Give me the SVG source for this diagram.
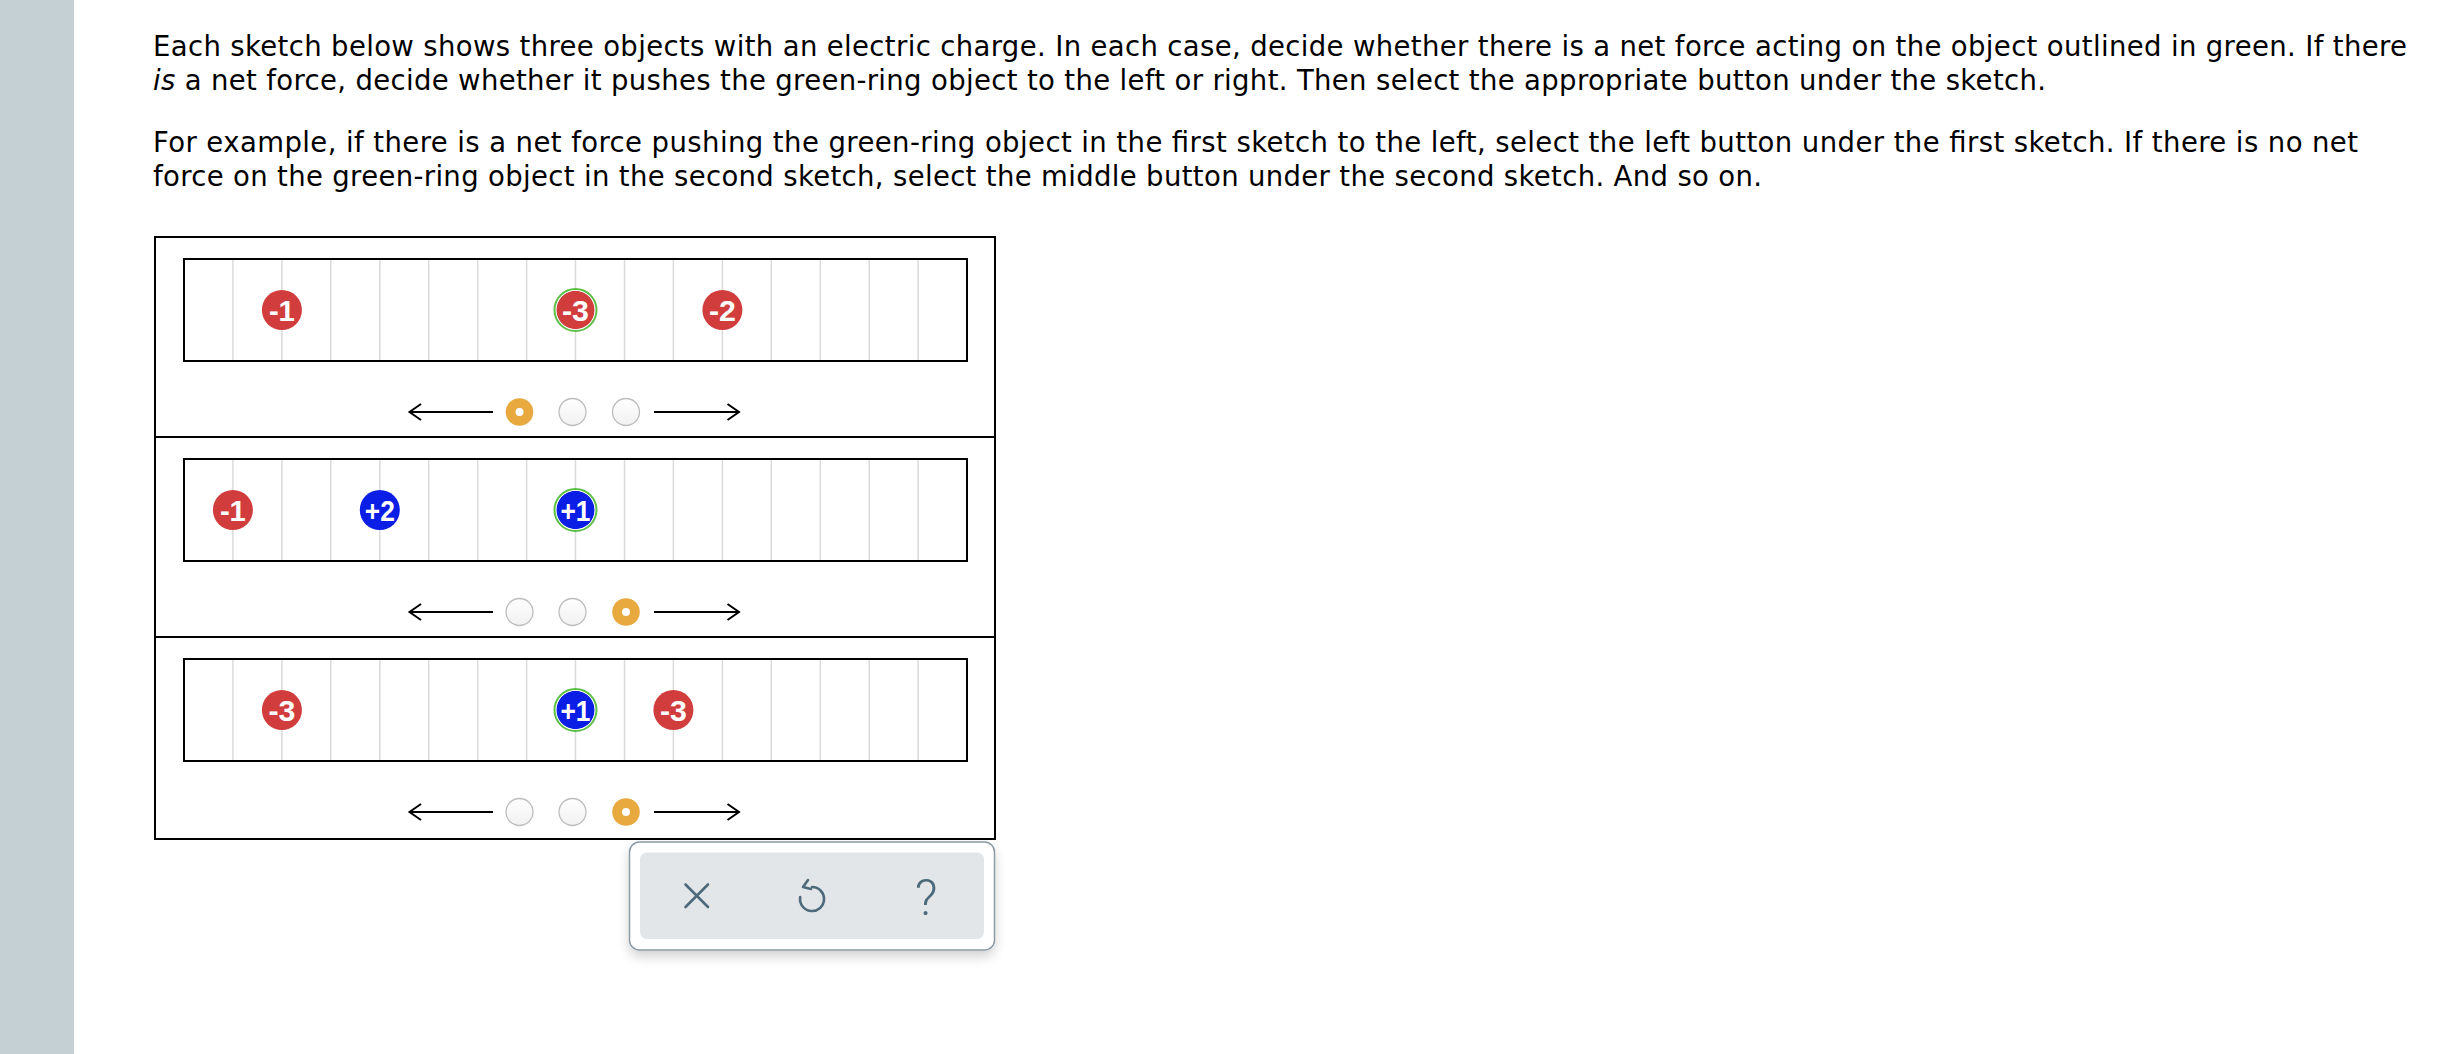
<svg xmlns="http://www.w3.org/2000/svg" width="2464" height="1054" viewBox="0 0 2464 1054">
<style>
.para{font-family:"DejaVu Sans","Verdana",sans-serif;font-size:27.5px;fill:#000}
.frame{fill:none;stroke:#000;stroke-width:2}
.grid{stroke:#dadada;stroke-width:1.5}
.neg{fill:#d13d3d}
.pos{fill:#0a1ee6}
.ring{fill:none;stroke:#5cbf45;stroke-width:2}
.gap{fill:none;stroke:#fff;stroke-width:1}
.lbl{font-family:"Liberation Sans",Arial,sans-serif;font-weight:bold;font-size:30px;fill:#fff;text-anchor:middle}
.radio{fill:url(#rg);stroke:#bdbdbd;stroke-width:1.3}
.sel{fill:#e8a93f}
.arr{fill:none;stroke:#000;stroke-width:2}
.icon{fill:none;stroke:#4c6a7b;stroke-width:2.6;stroke-linecap:round;stroke-linejoin:round}
</style>
<defs>
<linearGradient id="rg" x1="0" y1="0" x2="0" y2="1">
<stop offset="0" stop-color="#ffffff"/>
<stop offset="1" stop-color="#f1f1f1"/>
</linearGradient>
<filter id="sh" x="-10%" y="-20%" width="120%" height="160%">
<feGaussianBlur in="SourceAlpha" stdDeviation="6"/>
<feOffset dy="6"/>
<feComponentTransfer><feFuncA type="linear" slope="0.18"/></feComponentTransfer>
<feMerge><feMergeNode/><feMergeNode in="SourceGraphic"/></feMerge>
</filter>
</defs>
<rect width="2464" height="1054" fill="#fff"/>
<rect id="sidebar" x="0" y="0" width="74" height="1054" fill="#c5d0d5"/>

<g id="instructions">
<text class="para" x="153" y="56" textLength="2254" lengthAdjust="spacing">Each sketch below shows three objects with an electric charge. In each case, decide whether there is a net force acting on the object outlined in green. If there</text>
<text class="para" x="153" y="90" textLength="1893" lengthAdjust="spacing"><tspan font-style="italic">is</tspan> a net force, decide whether it pushes the green-ring object to the left or right. Then select the appropriate button under the sketch.</text>
<text class="para" x="153" y="152" textLength="2205" lengthAdjust="spacing">For example, if there is a net force pushing the green-ring object in the first sketch to the left, select the left button under the first sketch. If there is no net</text>
<text class="para" x="153" y="186" textLength="1609" lengthAdjust="spacing">force on the green-ring object in the second sketch, select the middle button under the second sketch. And so on.</text>
</g>

<g id="panel">
<rect class="frame" x="155" y="237" width="840" height="602"/>
<line class="frame" x1="155" y1="437" x2="995" y2="437"/>
<line class="frame" x1="155" y1="637" x2="995" y2="637"/>
</g>

<defs>
<g id="gridlines">
<line class="grid" x1="232.9" y1="0" x2="232.9" y2="102"/>
<line class="grid" x1="281.9" y1="0" x2="281.9" y2="102"/>
<line class="grid" x1="330.8" y1="0" x2="330.8" y2="102"/>
<line class="grid" x1="379.8" y1="0" x2="379.8" y2="102"/>
<line class="grid" x1="428.7" y1="0" x2="428.7" y2="102"/>
<line class="grid" x1="477.7" y1="0" x2="477.7" y2="102"/>
<line class="grid" x1="526.6" y1="0" x2="526.6" y2="102"/>
<line class="grid" x1="575.5" y1="0" x2="575.5" y2="102"/>
<line class="grid" x1="624.5" y1="0" x2="624.5" y2="102"/>
<line class="grid" x1="673.4" y1="0" x2="673.4" y2="102"/>
<line class="grid" x1="722.4" y1="0" x2="722.4" y2="102"/>
<line class="grid" x1="771.3" y1="0" x2="771.3" y2="102"/>
<line class="grid" x1="820.3" y1="0" x2="820.3" y2="102"/>
<line class="grid" x1="869.2" y1="0" x2="869.2" y2="102"/>
<line class="grid" x1="918.1" y1="0" x2="918.1" y2="102"/>
</g>
<g id="arrows-row">
<path class="arr" d="M493 0 H409.5 M421 -8 L409.5 0 L421 8"/>
<path class="arr" d="M654 0 H739 M727.5 -8 L739 0 L727.5 8"/>
</g>
</defs>

<g id="sketch1">
<use href="#gridlines" y="259"/>
<rect class="frame" x="184" y="259" width="783" height="102"/>
<g id="s1-q1"><circle class="neg" cx="281.9" cy="310" r="20"/><text class="lbl" x="281.9" y="320.5" textLength="26" lengthAdjust="spacingAndGlyphs">-1</text></g>
<g id="s1-q2"><circle class="neg" cx="575.5" cy="310" r="19.2"/><circle class="gap" cx="575.5" cy="310" r="19.7"/><circle class="ring" cx="575.5" cy="310" r="21"/><text class="lbl" x="575.5" y="320.5" textLength="27" lengthAdjust="spacingAndGlyphs">-3</text></g>
<g id="s1-q3"><circle class="neg" cx="722.4" cy="310" r="20"/><text class="lbl" x="722.4" y="320.5" textLength="27" lengthAdjust="spacingAndGlyphs">-2</text></g>
</g>
<g id="sketch2">
<use href="#gridlines" y="459"/>
<rect class="frame" x="184" y="459" width="783" height="102"/>
<g id="s2-q1"><circle class="neg" cx="232.9" cy="510" r="20"/><text class="lbl" x="232.9" y="520.5" textLength="26" lengthAdjust="spacingAndGlyphs">-1</text></g>
<g id="s2-q2"><circle class="pos" cx="379.8" cy="510" r="20"/><text class="lbl" x="379.8" y="520.5" textLength="30" lengthAdjust="spacingAndGlyphs">+2</text></g>
<g id="s2-q3"><circle class="pos" cx="575.5" cy="510" r="19.2"/><circle class="gap" cx="575.5" cy="510" r="19.7"/><circle class="ring" cx="575.5" cy="510" r="21"/><text class="lbl" x="575.5" y="520.5" textLength="30" lengthAdjust="spacingAndGlyphs">+1</text></g>
</g>
<g id="sketch3">
<use href="#gridlines" y="659"/>
<rect class="frame" x="184" y="659" width="783" height="102"/>
<g id="s3-q1"><circle class="neg" cx="281.9" cy="710" r="20"/><text class="lbl" x="281.9" y="720.5" textLength="27" lengthAdjust="spacingAndGlyphs">-3</text></g>
<g id="s3-q2"><circle class="pos" cx="575.5" cy="710" r="19.2"/><circle class="gap" cx="575.5" cy="710" r="19.7"/><circle class="ring" cx="575.5" cy="710" r="21"/><text class="lbl" x="575.5" y="720.5" textLength="30" lengthAdjust="spacingAndGlyphs">+1</text></g>
<g id="s3-q3"><circle class="neg" cx="673.4" cy="710" r="20"/><text class="lbl" x="673.4" y="720.5" textLength="27" lengthAdjust="spacingAndGlyphs">-3</text></g>
</g>

<g id="connectors">
<use href="#arrows-row" y="412"/>
<use href="#arrows-row" y="612"/>
<use href="#arrows-row" y="812"/>
</g>

<g id="choices1">
<circle class="sel" cx="519.5" cy="412" r="13.8"/><circle cx="519.5" cy="412" r="4" fill="#fff"/>
<circle class="radio" cx="572.5" cy="412" r="13.5"/>
<circle class="radio" cx="626" cy="412" r="13.5"/>
</g>
<g id="choices2">
<circle class="radio" cx="519.5" cy="612" r="13.5"/>
<circle class="radio" cx="572.5" cy="612" r="13.5"/>
<circle class="sel" cx="626" cy="612" r="13.8"/><circle cx="626" cy="612" r="4" fill="#fff"/>
</g>
<g id="choices3">
<circle class="radio" cx="519.5" cy="812" r="13.5"/>
<circle class="radio" cx="572.5" cy="812" r="13.5"/>
<circle class="sel" cx="626" cy="812" r="13.8"/><circle cx="626" cy="812" r="4" fill="#fff"/>
</g>

<g id="toolbar">
<rect x="629.5" y="842" width="365" height="108" rx="10" fill="#fff" stroke="#8c9ba2" stroke-width="1.5" filter="url(#sh)"/>
<rect x="640" y="852.5" width="344" height="86.5" rx="7" fill="#e2e6e8"/>
<path class="icon" d="M685.5 884.5 L708 907 M708 884.5 L685.5 907"/>
<path class="icon" d="M812 887 A12 12 0 1 1 800.2 897"/>
<path class="icon" d="M808 880 L803 887 L811 889"/>
<text x="926" y="915" font-family="Roboto,'DejaVu Sans',sans-serif" font-weight="300" font-size="50" fill="#4c6a7b" text-anchor="middle">?</text>
</g>
</svg>
